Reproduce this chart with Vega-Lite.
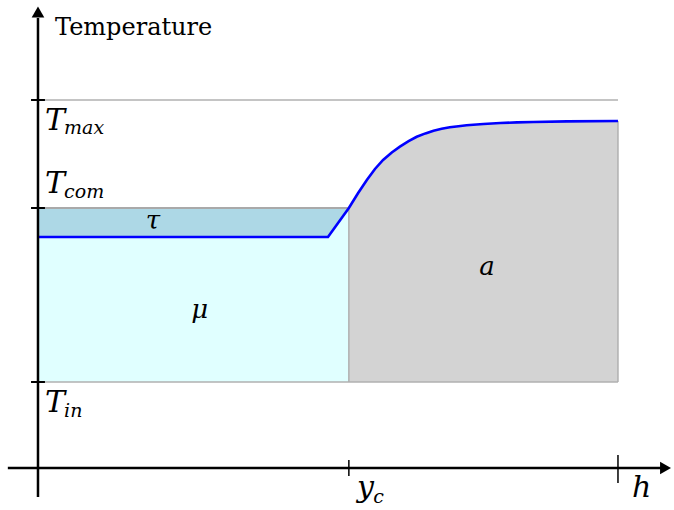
{
  "$schema": "https://vega.github.io/schema/vega-lite/v6.json",
  "width": 674,
  "height": 510,
  "padding": 0,
  "autosize": {"type": "fit", "contains": "padding"},
  "config": {"view": {"stroke": null}},
  "datasets": {
    "curve": [
      {"h": 0, "T": 23.1},
      {"h": 0.5, "T": 23.1},
      {"h": 0.536, "T": 26.0},
      {"h": 0.552, "T": 27.5},
      {"h": 0.567, "T": 28.8},
      {"h": 0.581, "T": 29.9},
      {"h": 0.595, "T": 30.8},
      {"h": 0.61, "T": 31.55},
      {"h": 0.624, "T": 32.13},
      {"h": 0.639, "T": 32.68},
      {"h": 0.653, "T": 33.12},
      {"h": 0.668, "T": 33.46},
      {"h": 0.682, "T": 33.72},
      {"h": 0.696, "T": 33.92},
      {"h": 0.71, "T": 34.07},
      {"h": 0.725, "T": 34.18},
      {"h": 0.739, "T": 34.27},
      {"h": 0.768, "T": 34.4},
      {"h": 0.797, "T": 34.5},
      {"h": 0.826, "T": 34.56},
      {"h": 0.854, "T": 34.6},
      {"h": 0.912, "T": 34.66},
      {"h": 1.0, "T": 34.7}
    ],
    "grayRules": [
      {"h": 0, "h2": 1, "T": 36.8, "T2": 36.8, "w": "thin"},
      {"h": 0, "h2": 1, "T": 8.6, "T2": 8.6, "w": "thin"},
      {"h": 0.536, "h2": 0.536, "T": 8.6, "T2": 26, "w": "thin"},
      {"h": 1, "h2": 1, "T": 8.6, "T2": 34.7, "w": "thin"},
      {"h": 0, "h2": 0.536, "T": 26, "T2": 26, "w": "thick"}
    ],
    "axes": [
      {"h": -0.052, "h2": 1.075, "T": 0, "T2": 0},
      {"h": 0, "h2": 0, "T": -2.9, "T2": 45}
    ],
    "yticks": [
      {"h": -0.012, "h2": 0.012, "T": 36.8, "T2": 36.8},
      {"h": -0.012, "h2": 0.012, "T": 26, "T2": 26},
      {"h": -0.012, "h2": 0.012, "T": 8.6, "T2": 8.6}
    ],
    "xticks": [
      {"h": 0.536, "h2": 0.536, "T": 0.8, "T2": -0.8},
      {"h": 1.0, "h2": 1.0, "T": 1.3, "T2": -1.5}
    ]
  },
  "encoding": {
    "x": {"field": "h", "type": "quantitative", "scale": {"domain": [-0.0655, 1.0966], "nice": false, "zero": false}, "axis": null},
    "y": {"field": "T", "type": "quantitative", "scale": {"domain": [-4.2, 46.8], "nice": false, "zero": false}, "axis": null}
  },
  "layer": [
    {
      "data": {"values": [{"h": 0, "h2": 0.536, "T": 8.6, "T2": 26}]},
      "mark": {"type": "rect", "fill": "#add8e6"},
      "encoding": {"x2": {"field": "h2"}, "y2": {"field": "T2"}}
    },
    {
      "data": {"name": "curve"},
      "transform": [{"filter": "datum.h <= 0.5365"}],
      "mark": {"type": "area", "fill": "#e0ffff", "interpolate": "linear"},
      "encoding": {"y2": {"datum": 8.6}}
    },
    {
      "data": {"name": "curve"},
      "transform": [{"filter": "datum.h >= 0.5355"}],
      "mark": {"type": "area", "fill": "#d3d3d3", "interpolate": "linear"},
      "encoding": {"y2": {"datum": 8.6}}
    },
    {
      "data": {"name": "grayRules"},
      "transform": [{"filter": "datum.w == 'thin'"}],
      "mark": {"type": "rule", "stroke": "#b0b0b0", "strokeWidth": 1.5},
      "encoding": {"x2": {"field": "h2"}, "y2": {"field": "T2"}}
    },
    {
      "data": {"name": "grayRules"},
      "transform": [{"filter": "datum.w == 'thick'"}],
      "mark": {"type": "rule", "stroke": "#a9a9a9", "strokeWidth": 2.2},
      "encoding": {"x2": {"field": "h2"}, "y2": {"field": "T2"}}
    },
    {
      "data": {"name": "curve"},
      "mark": {"type": "line", "stroke": "#0000ff", "strokeWidth": 2.6, "interpolate": "linear"},
      "encoding": {}
    },
    {
      "data": {"name": "axes"},
      "mark": {"type": "rule", "stroke": "#000000", "strokeWidth": 2.5},
      "encoding": {"x2": {"field": "h2"}, "y2": {"field": "T2"}}
    },
    {
      "data": {"name": "yticks"},
      "mark": {"type": "rule", "stroke": "#000000", "strokeWidth": 2},
      "encoding": {"x2": {"field": "h2"}, "y2": {"field": "T2"}}
    },
    {
      "data": {"name": "xticks"},
      "mark": {"type": "rule", "stroke": "#000000", "strokeWidth": 1.5},
      "encoding": {"x2": {"field": "h2"}, "y2": {"field": "T2"}}
    },
    {
      "data": {"values": [{"h": 1.082, "T": 0}]},
      "mark": {"type": "point", "shape": "triangle-right", "filled": true, "fill": "#000000", "stroke": null, "size": 160, "opacity": 1},
      "encoding": {}
    },
    {
      "data": {"values": [{"h": 0, "T": 45.6}]},
      "mark": {"type": "point", "shape": "triangle-up", "filled": true, "fill": "#000000", "stroke": null, "size": 160, "opacity": 1},
      "encoding": {}
    },
    {
      "data": {"values": [{"h": 0.0293, "T": 43.3, "label": "Temperature"}]},
      "mark": {"type": "text", "font": "DejaVu Serif, serif", "fontSize": 24, "align": "left", "baseline": "alphabetic", "color": "#000000"},
      "encoding": {"text": {"field": "label"}}
    },
    {
      "data": {"values": [
        {"h": 0.0121, "T": 33.8, "label": "T"},
        {"h": 0.0121, "T": 27.5, "label": "T"},
        {"h": 0.0121, "T": 5.6, "label": "T"},
        {"h": 0.55, "T": -2.9, "label": "y"},
        {"h": 1.024, "T": -2.9, "label": "h"}
      ]},
      "mark": {"type": "text", "font": "DejaVu Serif, serif", "fontStyle": "italic", "fontSize": 30, "align": "left", "baseline": "alphabetic", "color": "#000000"},
      "encoding": {"text": {"field": "label"}}
    },
    {
      "data": {"values": [
        {"h": 0.045, "T": 33.4, "label": "max"},
        {"h": 0.045, "T": 27.0, "label": "com"},
        {"h": 0.045, "T": 5.1, "label": "in"},
        {"h": 0.578, "T": -3.5, "label": "c"}
      ]},
      "mark": {"type": "text", "font": "DejaVu Serif, serif", "fontStyle": "italic", "fontSize": 19, "align": "left", "baseline": "alphabetic", "color": "#000000"},
      "encoding": {"text": {"field": "label"}}
    },
    {
      "data": {"values": [
        {"h": 0.198, "T": 23.9, "label": "τ"},
        {"h": 0.279, "T": 15.0, "label": "μ"},
        {"h": 0.774, "T": 19.3, "label": "a"}
      ]},
      "mark": {"type": "text", "font": "DejaVu Serif, serif", "fontStyle": "italic", "fontSize": 26, "align": "center", "baseline": "alphabetic", "color": "#000000"},
      "encoding": {"text": {"field": "label"}}
    }
  ]
}
